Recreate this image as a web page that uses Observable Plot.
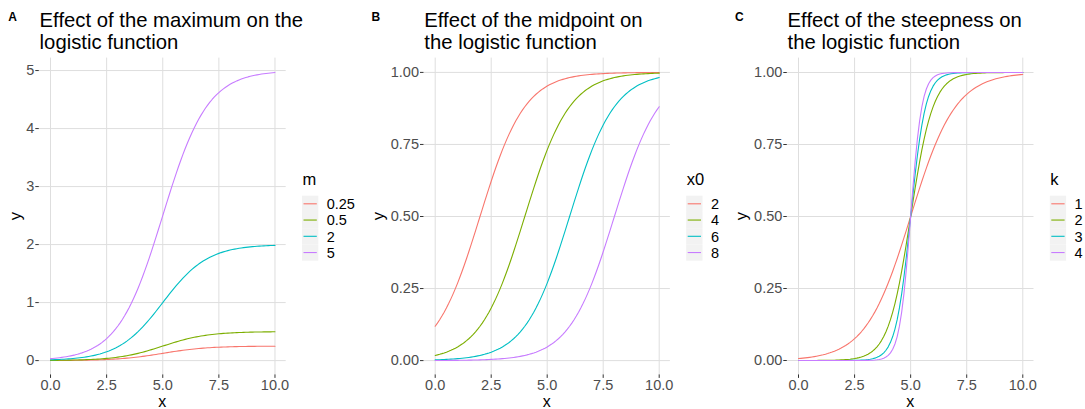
<!DOCTYPE html>
<html>
<head>
<meta charset="utf-8">
<script src="https://cdn.jsdelivr.net/npm/d3@7"></script>
<script src="https://cdn.jsdelivr.net/npm/@observablehq/plot@0.6"></script>
<style>
  html, body { margin: 0; padding: 0; background: #fff; }
  #wrap { position: relative; width: 1085px; height: 409px; overflow: hidden; background: #fff; font-family: "Liberation Sans", Arial, sans-serif; }
  #wrap > svg { position: absolute; top: 0; }
</style>
</head>
<body>
<div id="wrap"></div>
<script>
// ---- data ----
const tags = ["A", "B", "C"];
const titleLines = [
  ["Effect of the maximum on the", "logistic function"],
  ["Effect of the midpoint on", "the logistic function"],
  ["Effect of the steepness on", "the logistic function"]
];
const legendTitles = ["m", "x0", "k"];
const maxValues = [0.25, 0.5, 2, 5];     // panel A: m (x0 = 5, k = 1)
const midpoints = [2, 4, 6, 8];           // panel B: x0 (m = 1, k = 1)
const steepness = [1, 2, 3, 4];           // panel C: k (m = 1, x0 = 5)
const xTicks = [0, 2.5, 5, 7.5, 10];
const yTicksA = [0, 1, 2, 3, 4, 5];
const yTicksBC = [0, 0.25, 0.5, 0.75, 1];
const seriesColors = ["#F8766D", "#7CAE00", "#00BFC4", "#C77CFF"];
const xSamples = d3.range(101).map(i => i / 10);

const logistic = (x, m, x0, k) => m / (1 + Math.exp(-k * (x - x0)));

function curves(values, param) {
  const rows = [];
  for (const v of values) {
    for (const x of xSamples) {
      const p = { m: 1, x0: 5, k: 1 };
      p[param] = v;
      rows.push({ x, y: logistic(x, p.m, p.x0, p.k), g: String(v) });
    }
  }
  return rows;
}

const panels = [
  { values: maxValues, param: "m", yTicks: yTicksA, yFmt: d3.format("d"), offset: 0, left: 38.8, right: 285.7, tagX: 8.3, yTitleX: 16 },
  { values: midpoints, param: "x0", yTicks: yTicksBC, yFmt: d3.format(".2f"), offset: 362, left: 423.5, right: 669.9, tagX: 371.5, yTitleX: 379 },
  { values: steepness, param: "k", yTicks: yTicksBC, yFmt: d3.format(".2f"), offset: 723, left: 786.8, right: 1033.5, tagX: 735, yTitleX: 742 }
];

const H = 409, TOP = 57.6, BOTTOM = 374.4, PW = 361;
const FONT = '"Liberation Sans", Arial, sans-serif';
const wrap = document.getElementById("wrap");

panels.forEach((p, i) => {
  const data = curves(p.values, p.param);
  const [y0, y1] = d3.extent(data, d => d.y);
  const pad = (y1 - y0) * 0.05;
  const chart = Plot.plot({
    width: PW,
    height: H,
    marginLeft: p.left - p.offset,
    marginRight: p.offset + PW - p.right,
    marginTop: TOP,
    marginBottom: H - BOTTOM,
    style: { fontFamily: FONT, fontSize: "14.5px", color: "#4d4d4d", background: "transparent", overflow: "visible" },
    x: { domain: [-0.5, 10.5] },
    y: { domain: [y0 - pad, y1 + pad] },
    color: { domain: p.values.map(String), range: seriesColors },
    marks: [
      Plot.gridX(xTicks, { stroke: "#dedede", strokeOpacity: 1, strokeWidth: 1 }),
      Plot.gridY(p.yTicks, { stroke: "#dedede", strokeOpacity: 1, strokeWidth: 1 }),
      Plot.axisX(xTicks, { tickSize: 3.5, tickPadding: 1.2, tickFormat: d3.format(".1f"), stroke: "#333", fill: "#4d4d4d", fontSize: 14.5, label: null }),
      Plot.axisY(p.yTicks, { tickSize: 3.5, tickPadding: 1.5, tickFormat: p.yFmt, stroke: "#333", fill: "#4d4d4d", fontSize: 14.5, label: null }),
      Plot.line(data, { x: "x", y: "y", z: "g", stroke: "g", strokeWidth: 1.1 })
    ]
  });
  chart.style.left = p.offset + "px";
  wrap.appendChild(chart);
});

// ---- overlay: tags, titles, axis titles, legends ----
const svg = d3.select(wrap).append("svg")
  .attr("width", 1085).attr("height", H)
  .style("left", "0px").style("pointer-events", "none")
  .style("font-family", FONT);

panels.forEach((p, i) => {
  svg.append("text").attr("x", p.tagX).attr("y", 20.5)
    .attr("font-size", 12).attr("font-weight", "bold").attr("fill", "#000").text(tags[i]);
  const t = svg.append("text").attr("font-size", 20.3).attr("fill", "#000");
  titleLines[i].forEach((line, j) => {
    t.append("tspan").attr("x", p.left + 0.8).attr("y", 26.7 + j * 21.8).text(line);
  });
  // axis titles
  svg.append("text").attr("x", (p.left + p.right) / 2).attr("y", 407.3)
    .attr("text-anchor", "middle").attr("font-size", 16).attr("fill", "#000").text("x");
  svg.append("text")
    .attr("transform", `translate(${p.yTitleX + 5},${(TOP + BOTTOM) / 2}) rotate(-90)`)
    .attr("text-anchor", "middle").attr("font-size", 16.5).attr("fill", "#000").text("y");
  // legend
  const lx = p.right + 16.3;
  const g = svg.append("g").attr("transform", `translate(${lx},0)`);
  g.append("text").attr("x", 0.5).attr("y", 185).attr("font-size", 16.5).attr("fill", "#000").text(legendTitles[i]);
  p.values.forEach((v, j) => {
    const ky = 195.7 + j * 16.25;
    g.append("rect").attr("x", 0).attr("y", ky).attr("width", 16.3).attr("height", 16.25).attr("fill", "#f2f2f2");
    g.append("line").attr("x1", 1.5).attr("x2", 14.8).attr("y1", ky + 8.1).attr("y2", ky + 8.1)
      .attr("stroke", seriesColors[j]).attr("stroke-width", 1.1);
    g.append("text").attr("x", 24.7).attr("y", ky + 8.1).attr("dy", "0.36em")
      .attr("font-size", 14.5).attr("fill", "#000").text(String(v));
  });
});
</script>
</body>
</html>
